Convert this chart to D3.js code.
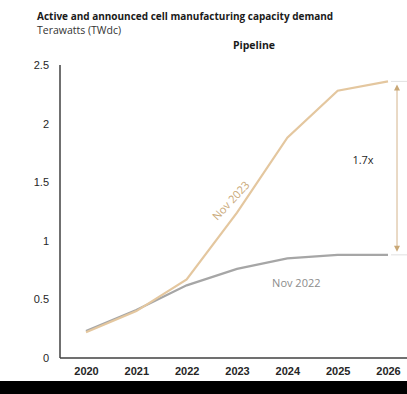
<!DOCTYPE html>
<html>
<head>
<meta charset="utf-8">
<script src="https://cdn.jsdelivr.net/npm/d3@7"></script>
<style>
  body { margin: 0; background: #fff; }
  svg { display: block; font-family: "Open Sans", sans-serif; }
  .axis .domain { stroke: #404040; stroke-width: 1.5; }
  .axis text { fill: #262626; font-size: 11px; }
</style>
</head>
<body>
<svg id="chart" width="407" height="394"></svg>
<script>
const years = [2020, 2021, 2022, 2023, 2024, 2025, 2026];
const nov2023 = [0.22, 0.40, 0.67, 1.24, 1.88, 2.28, 2.36];
const nov2022 = [0.23, 0.41, 0.62, 0.76, 0.85, 0.88, 0.88];
const yTicks = [0, 0.5, 1, 1.5, 2, 2.5];
const multiple = '1.7x';

const svg = d3.select('#chart');
const x = d3.scalePoint().domain(years).range([86, 388]);
const y = d3.scaleLinear().domain([0, 2.5]).range([358, 65]);

// Titles
svg.append('text').attr('x', 37).attr('y', 20)
  .style('font-size', '10px').style('font-weight', 'bold').attr('fill', '#1a1a1a')
  .text('Active and announced cell manufacturing capacity demand');
svg.append('text').attr('x', 37).attr('y', 34)
  .style('font-size', '10.5px').attr('fill', '#333')
  .text('Terawatts (TWdc)');
svg.append('text').attr('x', 254).attr('y', 49).attr('text-anchor', 'middle')
  .style('font-size', '10.5px').style('font-weight', 'bold').attr('fill', '#1a1a1a')
  .text('Pipeline');

// Axes
svg.append('g')
  .attr('class', 'axis')
  .attr('transform', 'translate(60,0)')
  .call(d3.axisLeft(y).tickValues(yTicks).tickSize(0).tickPadding(11)
        .tickFormat(d => String(d)))
  .call(g => g.select('.domain').attr('d', `M0,${y(2.5)}V${y(0)}`));
const xAxis = svg.append('g')
  .attr('class', 'axis')
  .attr('transform', `translate(0,${y(0)})`)
  .call(d3.axisBottom(x).tickSize(0).tickPadding(9))
  .call(g => g.select('.domain').attr('d', 'M60,0H407'));
xAxis.selectAll('text').style('font-weight', '600');

const line = d3.line().x((d, i) => x(years[i])).y(d => y(d));

svg.append('path').datum(nov2022)
  .attr('fill', 'none').attr('stroke', '#a6a6a6').attr('stroke-width', 2.2)
  .attr('d', line);
svg.append('path').datum(nov2023)
  .attr('fill', 'none').attr('stroke', '#e4c79f').attr('stroke-width', 2.2)
  .attr('d', line);

// Series labels
svg.append('text')
  .attr('transform', `translate(${x(2023) - 6},${y(nov2023[3]) - 12}) rotate(-47)`)
  .attr('text-anchor', 'middle').attr('dy', '0.35em')
  .style('font-size', '11px').attr('fill', '#c9a877')
  .text('Nov 2023');
svg.append('text').attr('x', x(2024) + 9).attr('y', y(nov2022[4]) + 29)
  .attr('text-anchor', 'middle')
  .style('font-size', '11px').attr('fill', '#8c8c8c')
  .text('Nov 2022');

// Multiple arrow
const last = years.length - 1;
const ax = x(2026) + 9;
const yTop = y(nov2023[last]), yBot = y(nov2022[last]);
svg.append('line').attr('x1', ax).attr('x2', ax).attr('y1', yTop + 5).attr('y2', yBot - 5)
  .attr('stroke', '#d4b48c').attr('stroke-width', 1);
svg.append('path').attr('d', `M${ax},${yTop + 3}l-3,6h6z`).attr('fill', '#c9a877');
svg.append('path').attr('d', `M${ax},${yBot - 3}l-3,-6h6z`).attr('fill', '#c9a877');
[yTop, yBot].forEach(v => {
  svg.append('line').attr('x1', ax - 6).attr('x2', 407).attr('y1', v).attr('y2', v)
    .attr('stroke', '#d9d9d9').attr('stroke-width', 0.8);
});
svg.append('text').attr('x', 363).attr('y', (yTop + yBot) / 2 - 4)
  .attr('text-anchor', 'middle')
  .style('font-size', '11px').attr('fill', '#262626')
  .text(multiple);

// Dark strip along the bottom of the screenshot
svg.append('rect').attr('x', 0).attr('y', 381).attr('width', 407).attr('height', 13)
  .attr('fill', '#000');
</script>
</body>
</html>
